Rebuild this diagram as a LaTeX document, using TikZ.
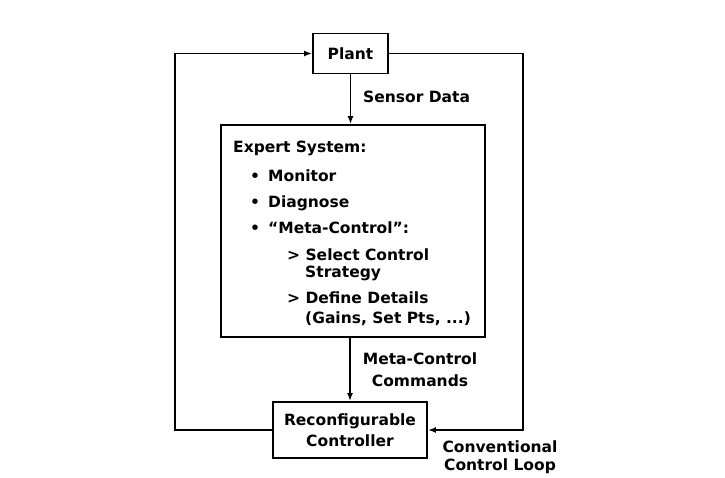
\documentclass[tikz,border=0pt]{standalone}
\usepackage{fontspec}
\setmainfont{DejaVu Sans}
\usepackage{tikz}
\usetikzlibrary{arrows.meta}

\begin{document}
\begin{tikzpicture}[
x=1pt, y=-1pt,
font=\fontsize{15.5}{20}\selectfont\bfseries,
block/.style={draw, line width=1.9pt, inner sep=0pt, align=center},
txt/.style={anchor=base west, inner sep=0pt},
lbl/.style={inner sep=0pt, align=center},
wire/.style={line width=1.9pt, line join=miter},
flow/.style={wire, -{Latex[length=8pt,width=6pt]}}
]
\useasboundingbox (0,0) rectangle (725,477);

% blocks
\node[block, minimum width=75pt, minimum height=40pt] (plant) at (350.5,53.5) {Plant};
\node[block, minimum width=264pt, minimum height=212pt] (expert) at (353,231) {};
\node[block, minimum width=154pt, minimum height=56pt] (ctrl) at (350,430) {Reconfigurable\\[1pt]Controller};

% text of the expert system
\node[txt] (es) at (233,152) {Expert System:};
\node[txt] (d1) at (250,181) {\textbullet};
\node[txt] (b1) at (268,181) {Monitor};
\node[txt] (d2) at (250,207) {\textbullet};
\node[txt] (b2) at (268,207) {Diagnose};
\node[txt] (d3) at (250,233) {\textbullet};
\node[txt] (b3) at (268,233) {``Meta-Control'':};
\node[txt] (s1) at (287,260) {> Select Control};
\node[txt] (s1b) at (305,277) {Strategy};
\node[txt] (s2) at (287,303) {> Define Details};
\node[txt] (s2b) at (305,323) {(Gains, Set Pts, ...)};

% labels
\node[txt] (sensor) at (363,102) {Sensor Data};
\node[lbl] (meta) at (420,370) {Meta-Control\\[2pt]Commands};
\node[lbl, anchor=north] (conv) at (500,441) {Conventional\\[-2pt]Control Loop};

% loop corners
\coordinate (lt) at (175,53.5);
\coordinate (lb) at (175,430);
\coordinate (rt) at (523,53.5);
\coordinate (rb) at (523,430);

% connectors
\draw[flow] (plant.south) -- (plant.south |- expert.north);
\draw[flow] (ctrl.north |- expert.south) -- (ctrl.north);
\draw[flow] (ctrl.west) -- (lb) -- (lt) -- (plant.west);
\draw[flow] (plant.east) -- (rt) -- (rb) -- (ctrl.east);

\end{tikzpicture}
\end{document}
